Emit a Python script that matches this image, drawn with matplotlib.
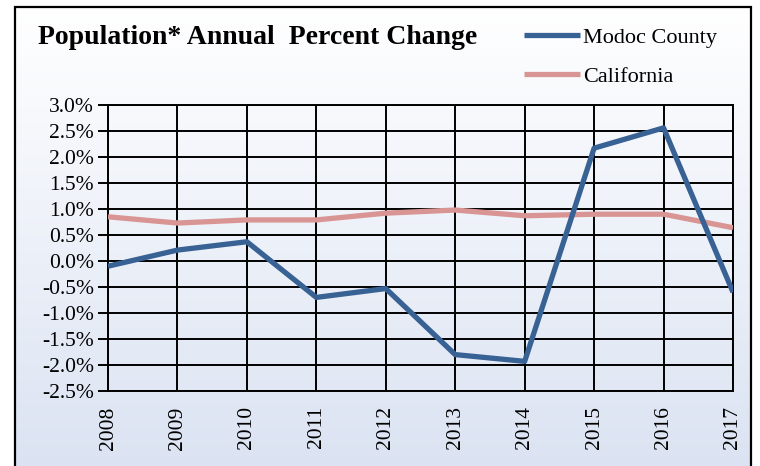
import matplotlib.pyplot as plt
import numpy as np
from matplotlib.patches import Rectangle

plt.rcParams['font.family'] = ['Liberation Serif', 'DejaVu Serif']

years = ["2008", "2009", "2010", "2011", "2012", "2013", "2014", "2015", "2016", "2017"]
modoc = [-0.10, 0.21, 0.37, -0.70, -0.53, -1.80, -1.93, 2.17, 2.56, -0.60]
california = [0.85, 0.73, 0.79, 0.79, 0.92, 0.98, 0.87, 0.90, 0.90, 0.64]
yticks = [3.0, 2.5, 2.0, 1.5, 1.0, 0.5, 0.0, -0.5, -1.0, -1.5, -2.0, -2.5]

fig = plt.figure(figsize=(7.6, 4.66), dpi=100)

# gradient background inside the chart frame
fl, fr, ft = 15 / 760, 751 / 760, 1 - 7 / 466
bg = fig.add_axes([0, 0, 1, 1], zorder=-10)
grad = np.linspace(0, 1, 256).reshape(-1, 1)
top = np.array([1.0, 1.0, 1.0])
bot = np.array([0.86, 0.89, 0.95])
img = top + (bot - top) * grad[..., None]
bg.imshow(img, aspect="auto", extent=[fl, fr, 0, ft], origin="upper")
bg.set_xlim(0, 1)
bg.set_ylim(0, 1)
bg.axis("off")
bg.add_patch(Rectangle((fl, -0.05), fr - fl, ft + 0.05,
                       fill=False, edgecolor="black", linewidth=1.6))

ax = fig.add_axes([108 / 760, 1 - 391 / 466, 625 / 760, 286 / 466])
ax.patch.set_alpha(0)
x = np.arange(len(years))
l1, = ax.plot(x, modoc, color="#386194", linewidth=3.8, label="Modoc County",
              solid_capstyle="butt", zorder=5)
l2, = ax.plot(x, california, color="#d99594", linewidth=3.8, label="California",
              solid_capstyle="butt", zorder=4)

ax.set_xlim(0, len(years) - 1)
ax.set_ylim(-2.5, 3.0)
ax.set_yticks(yticks)
ax.set_yticklabels([f"{v:.1f}%" for v in yticks], fontsize=15.5)
ax.set_xticks(x)
ax.set_xticklabels(years, rotation=90, fontsize=15.5)
ax.grid(True, color="black", linewidth=1.4)
ax.tick_params(axis="y", length=7, width=1.4, pad=3)
ax.tick_params(axis="x", length=0, pad=11)
for s in ax.spines.values():
    s.set_linewidth(1.4)

fig.text(38 / 760, 1 - 37 / 466, "Population* Annual  Percent Change",
         fontsize=20, fontweight="bold", va="center", ha="left")

fig.legend(handles=[l1, l2], loc="upper left",
           bbox_to_anchor=(513 / 760, 1 - 16 / 466), frameon=False,
           fontsize=16, handlelength=2.5, handletextpad=0.15,
           labelspacing=0.85, borderpad=0)

fig.savefig("out.png", dpi=100)
